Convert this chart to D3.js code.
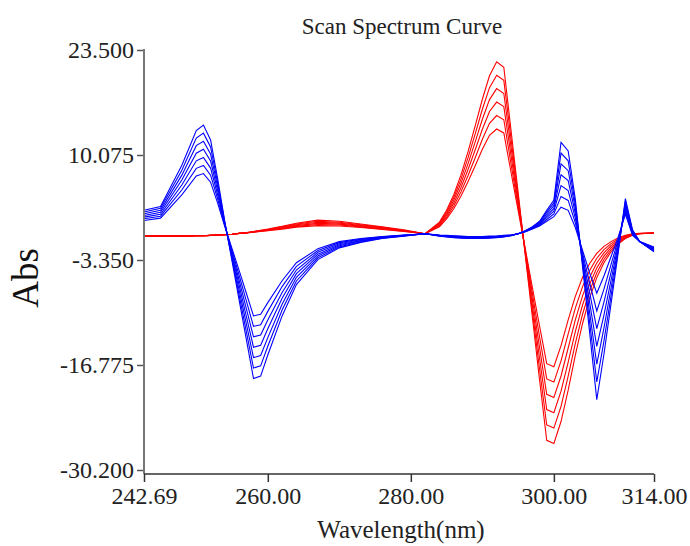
<!DOCTYPE html>
<html lang="en">
<head>
    <meta charset="UTF-8">
    <title>Scan Spectrum Curve</title>
    <script src="https://cdn.jsdelivr.net/npm/d3@7"></script>
    <style>
        body { margin: 0; background: #fff; }
        text { font-family: "Liberation Serif", "Times New Roman", serif; }
    </style>
</head>
<body>
<svg id="chart" width="690" height="546"></svg>

<script>
    /* global d3*/

    // wavelength grid (nm), shared by every curve
    var wavelengths = [242.69, 245, 248, 250, 251, 252, 253, 254, 255, 256, 257, 258, 259, 260, 262, 264, 267, 270, 273, 276,
        279, 282, 284, 285, 286, 287, 288, 289, 290, 291, 292, 293, 294, 295, 296, 297, 298, 299, 300, 301,
        302, 303, 304, 305, 306, 307, 308, 309, 310, 311, 312, 314];

    // red family (smallest -> largest)
    var red1 = [-0.3, -0.3, -0.3, -0.25, -0.25, -0.2, -0.15, -0.1, -0.05, 0.05, 0.1, 0.2, 0.3, 0.4, 0.6, 0.85, 1.05, 1.0, 0.8, 0.55, 0.3, 0, 0.9, 1.9, 3.2, 4.8, 6.7, 8.7, 10.8, 12.6, 13.4, 12.9, 7.9, 3.0, -1.9, -6.9, -11.8, -16.6, -17.0, -14.3, -11.0, -8.0, -5.6, -3.8, -2.5, -1.6, -1.0, -0.5, -0.2, 0, 0.05, 0.1];
    var red2 = [-0.3, -0.3, -0.3, -0.25, -0.25, -0.2, -0.15, -0.1, -0.05, 0.05, 0.11, 0.22, 0.33, 0.44, 0.67, 0.95, 1.19, 1.12, 0.89, 0.62, 0.34, 0, 1.02, 2.12, 3.56, 5.34, 7.46, 9.72, 12.08, 14.12, 15.12, 14.58, 8.98, 3.46, -2.06, -7.66, -13.18, -18.56, -18.96, -16.24, -12.8, -9.5, -6.78, -4.68, -3.12, -2.02, -1.26, -0.66, -0.28, -0.04, 0.04, 0.1];
    var red3 = [-0.3, -0.3, -0.3, -0.25, -0.25, -0.2, -0.15, -0.1, -0.05, 0.05, 0.12, 0.24, 0.36, 0.48, 0.74, 1.05, 1.33, 1.24, 0.98, 0.69, 0.38, 0, 1.14, 2.34, 3.92, 5.88, 8.22, 10.74, 13.36, 15.64, 16.84, 16.26, 10.06, 3.92, -2.22, -8.42, -14.56, -20.52, -20.92, -18.18, -14.6, -11.0, -7.96, -5.56, -3.74, -2.44, -1.52, -0.82, -0.36, -0.08, 0.03, 0.1];
    var red4 = [-0.3, -0.3, -0.3, -0.25, -0.25, -0.2, -0.15, -0.1, -0.05, 0.05, 0.13, 0.26, 0.39, 0.52, 0.81, 1.15, 1.47, 1.36, 1.07, 0.76, 0.42, 0, 1.26, 2.56, 4.28, 6.42, 8.98, 11.76, 14.64, 17.16, 18.56, 17.94, 11.14, 4.38, -2.38, -9.18, -15.94, -22.48, -22.88, -20.12, -16.4, -12.5, -9.14, -6.44, -4.36, -2.86, -1.78, -0.98, -0.44, -0.12, 0.02, 0.1];
    var red5 = [-0.3, -0.3, -0.3, -0.25, -0.25, -0.2, -0.15, -0.1, -0.05, 0.05, 0.14, 0.28, 0.42, 0.56, 0.88, 1.25, 1.61, 1.48, 1.16, 0.83, 0.46, 0, 1.38, 2.78, 4.64, 6.96, 9.74, 12.78, 15.92, 18.68, 20.28, 19.62, 12.22, 4.84, -2.54, -9.94, -17.32, -24.44, -24.84, -22.06, -18.2, -14.0, -10.32, -7.32, -4.98, -3.28, -2.04, -1.14, -0.52, -0.16, 0.01, 0.1];
    var red6 = [-0.3, -0.3, -0.3, -0.25, -0.25, -0.2, -0.15, -0.1, -0.05, 0.05, 0.15, 0.3, 0.45, 0.6, 0.95, 1.35, 1.75, 1.6, 1.25, 0.9, 0.5, 0, 1.5, 3.0, 5.0, 7.5, 10.5, 13.8, 17.2, 20.2, 22.0, 21.3, 13.3, 5.3, -2.7, -10.7, -18.7, -26.4, -26.8, -24.0, -20.0, -15.5, -11.5, -8.2, -5.6, -3.7, -2.3, -1.3, -0.6, -0.2, 0, 0.1];

    // blue family (smallest -> largest)
    var blue1 = [1.7, 2.0, 5.0, 7.4, 7.7, 6.6, 3.9, 0.9, -1.9, -4.7, -7.6, -10.5, -10.3, -8.8, -6.0, -3.7, -1.9, -1.0, -0.6, -0.35, -0.15, 0, -0.15, -0.2, -0.25, -0.3, -0.35, -0.35, -0.35, -0.3, -0.3, -0.2, -0.15, 0, 0.25, 0.6, 1.0, 1.6, 2.2, 3.4, 3.0, 0.8, -2.1, -5.0, -7.6, -5.4, -2.9, -0.4, 2.5, -0.2, -1.0, -1.7];
    var blue2 = [1.92, 2.25, 5.63, 8.37, 8.73, 7.5, 4.42, 1.0, -2.17, -5.33, -8.58, -11.83, -11.62, -9.92, -6.75, -4.17, -2.13, -1.13, -0.68, -0.39, -0.18, 0, -0.18, -0.23, -0.29, -0.34, -0.39, -0.39, -0.39, -0.34, -0.33, -0.23, -0.17, 0, 0.28, 0.65, 1.1, 1.83, 2.55, 4.78, 4.27, 1.4, -2.43, -6.27, -9.87, -7.07, -3.9, -0.73, 2.83, -0.08, -1.0, -1.8];
    var blue3 = [2.13, 2.5, 6.27, 9.33, 9.77, 8.4, 4.93, 1.1, -2.43, -5.97, -9.57, -13.17, -12.93, -11.03, -7.5, -4.63, -2.37, -1.27, -0.77, -0.43, -0.2, 0, -0.2, -0.27, -0.33, -0.38, -0.43, -0.43, -0.43, -0.38, -0.37, -0.27, -0.18, 0, 0.3, 0.7, 1.2, 2.07, 2.9, 6.17, 5.53, 2.0, -2.77, -7.53, -12.13, -8.73, -4.9, -1.07, 3.17, 0.03, -1.0, -1.9];
    var blue4 = [2.35, 2.75, 6.9, 10.3, 10.8, 9.3, 5.45, 1.2, -2.7, -6.6, -10.55, -14.5, -14.25, -12.15, -8.25, -5.1, -2.6, -1.4, -0.85, -0.48, -0.23, 0, -0.23, -0.3, -0.38, -0.43, -0.48, -0.48, -0.48, -0.43, -0.4, -0.3, -0.2, 0, 0.33, 0.75, 1.3, 2.3, 3.25, 7.55, 6.8, 2.6, -3.1, -8.8, -14.4, -10.4, -5.9, -1.4, 3.5, 0.15, -1.0, -2.0];
    var blue5 = [2.57, 3.0, 7.53, 11.27, 11.83, 10.2, 5.97, 1.3, -2.97, -7.23, -11.53, -15.83, -15.57, -13.27, -9.0, -5.57, -2.83, -1.53, -0.93, -0.52, -0.25, 0, -0.25, -0.33, -0.42, -0.47, -0.52, -0.52, -0.52, -0.47, -0.43, -0.33, -0.22, 0, 0.35, 0.8, 1.4, 2.53, 3.6, 8.93, 8.07, 3.2, -3.43, -10.07, -16.67, -12.07, -6.9, -1.73, 3.83, 0.27, -1.0, -2.1];
    var blue6 = [2.78, 3.25, 8.17, 12.23, 12.87, 11.1, 6.48, 1.4, -3.23, -7.87, -12.52, -17.17, -16.88, -14.38, -9.75, -6.03, -3.07, -1.67, -1.02, -0.56, -0.28, 0, -0.28, -0.37, -0.46, -0.51, -0.56, -0.56, -0.56, -0.51, -0.47, -0.37, -0.23, 0, 0.38, 0.85, 1.5, 2.77, 3.95, 10.32, 9.33, 3.8, -3.77, -11.33, -18.93, -13.73, -7.9, -2.07, 4.17, 0.38, -1.0, -2.2];
    var blue7 = [3.0, 3.5, 8.8, 13.2, 13.9, 12.0, 7.0, 1.5, -3.5, -8.5, -13.5, -18.5, -18.2, -15.5, -10.5, -6.5, -3.3, -1.8, -1.1, -0.6, -0.3, 0, -0.3, -0.4, -0.5, -0.55, -0.6, -0.6, -0.6, -0.55, -0.5, -0.4, -0.25, 0, 0.4, 0.9, 1.6, 3.0, 4.3, 11.7, 10.6, 4.4, -4.1, -12.6, -21.2, -15.4, -8.9, -2.4, 4.5, 0.5, -1.0, -2.3];

    var xTicks = [242.69, 260, 280, 300, 314];
    var yTicks = [23.5, 10.075, -3.35, -16.775, -30.2];

    var redCurves = [red1, red2, red3, red4, red5, red6],
        blueCurves = [blue1, blue2, blue3, blue4, blue5, blue6, blue7];

    var svg = d3.select("#chart"),
        plotLeft = 144, plotRight = 654, plotTop = 50, plotBottom = 470, axisY = 474;

    var x = d3.scaleLinear().domain([242.69, 314]).range([plotLeft, plotRight]),
        y = d3.scaleLinear().domain([-30.2, 23.5]).range([plotBottom, plotTop]);

    var line = d3.line()
        .x(function (d, i) { return x(wavelengths[i]); })
        .y(function (d) { return y(d); });

    // curves
    svg.append("g")
        .selectAll("path")
        .data(redCurves)
        .enter().append("path")
        .attr("d", line)
        .attr("fill", "none")
        .attr("stroke", "#ff0000")
        .attr("stroke-width", 1.1);

    svg.append("g")
        .selectAll("path")
        .data(blueCurves)
        .enter().append("path")
        .attr("d", line)
        .attr("fill", "none")
        .attr("stroke", "#0000ff")
        .attr("stroke-width", 1.1);

    // y axis (plain hyphen for negatives, like the original software)
    var yAxis = svg.append("g")
        .attr("transform", "translate(" + plotLeft + ",0)")
        .call(d3.axisLeft(y).tickValues(yTicks).tickSize(7).tickPadding(3)
            .tickFormat(function (d) { return d.toFixed(3); }));
    yAxis.select(".domain").remove();
    yAxis.selectAll("line").attr("stroke", "#555").attr("stroke-width", 1.5);
    yAxis.selectAll("text").attr("font-size", 24).attr("fill", "#222")
        .attr("font-family", "Liberation Serif");
    svg.append("line")
        .attr("x1", plotLeft).attr("x2", plotLeft)
        .attr("y1", plotTop - 1).attr("y2", axisY)
        .attr("stroke", "#777").attr("stroke-width", 2);

    // x axis
    var xAxis = svg.append("g")
        .attr("transform", "translate(0," + axisY + ")")
        .call(d3.axisBottom(x).tickValues(xTicks).tickSize(8).tickPadding(5)
            .tickFormat(function (d) { return d.toFixed(2); }));
    xAxis.select(".domain").attr("stroke", "#333").attr("stroke-width", 1.5)
        .attr("d", "M" + plotLeft + ",0H" + plotRight);
    xAxis.selectAll("line").attr("stroke", "#333").attr("stroke-width", 1.5);
    xAxis.selectAll("text").attr("font-size", 24).attr("fill", "#222")
        .attr("font-family", "Liberation Serif");

    // titles
    svg.append("text")
        .attr("x", 402).attr("y", 34)
        .attr("text-anchor", "middle")
        .attr("font-size", 23).attr("fill", "#222")
        .text("Scan Spectrum Curve");

    svg.append("text")
        .attr("x", 401).attr("y", 538)
        .attr("text-anchor", "middle")
        .attr("font-size", 25).attr("fill", "#222")
        .text("Wavelength(nm)");

    svg.append("text")
        .attr("transform", "translate(38,278) rotate(-90)")
        .attr("text-anchor", "middle")
        .attr("font-size", 37).attr("fill", "#111")
        .text("Abs");
</script>
</body>
</html>
